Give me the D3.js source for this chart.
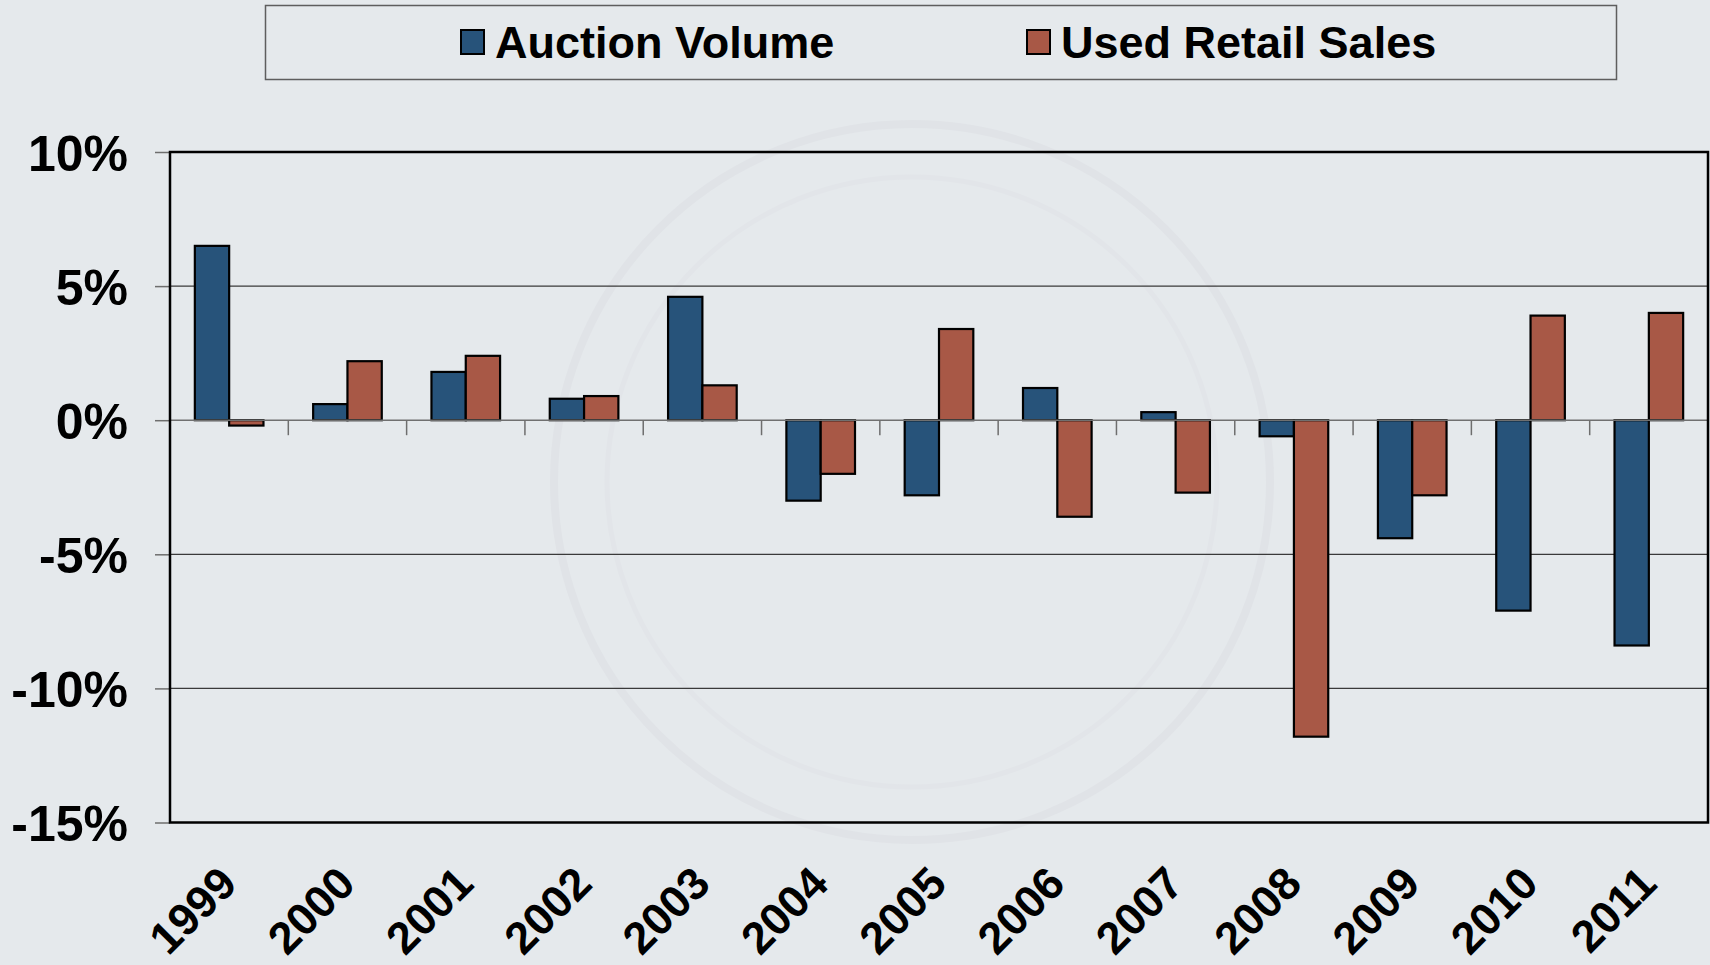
<!DOCTYPE html>
<html>
<head>
<meta charset="utf-8">
<script src="https://cdn.jsdelivr.net/npm/d3@7"></script>
<style>
  html, body { margin: 0; padding: 0; background: #e5e9ec; }
  svg text { font-family: "Liberation Sans", Arial, sans-serif; font-weight: bold; fill: #000; }
</style>
</head>
<body>
<div id="chart"></div>
<script>
// Data (% change per year)
const years = ["1999","2000","2001","2002","2003","2004","2005","2006","2007","2008","2009","2010","2011"];
const auctionVolume = [6.5, 0.6, 1.8, 0.8, 4.6, -3.0, -2.8, 1.2, 0.3, -0.6, -4.4, -7.1, -8.4];
const usedRetailSales = [-0.2, 2.2, 2.4, 0.9, 1.3, -2.0, 3.4, -3.6, -2.7, -11.8, -2.8, 3.9, 4.0];
const seriesNames = ["Auction Volume", "Used Retail Sales"];
const seriesColors = ["#27537a", "#a85846"];
const yTicks = [-15, -10, -5, 0, 5, 10];

const width = 1710, height = 965;
const plotLeft = 170, plotRight = 1708, plotTop = 152, plotBottom = 822.5;

let svg = d3.select("#chart").append("svg")
  .attr("width", width)
  .attr("height", height);

// background
svg.append("rect").attr("width", width).attr("height", height).attr("fill", "#e5e9ec");

// faint watermark rings behind the plot
svg.append("circle").attr("cx", 912).attr("cy", 482).attr("r", 358)
  .attr("fill", "none").attr("stroke", "#e0e3e7").attr("stroke-width", 8);
svg.append("circle").attr("cx", 912).attr("cy", 482).attr("r", 305)
  .attr("fill", "none").attr("stroke", "#e2e5e9").attr("stroke-width", 5);

let x = d3.scaleBand().domain(years).range([plotLeft, plotRight]).paddingInner(0).paddingOuter(0);
let y = d3.scaleLinear().domain([-15, 10]).range([plotBottom, plotTop]);

const barW = x.bandwidth() * 0.29;
let x1 = d3.scaleBand().domain(seriesNames)
  .range([x.bandwidth() / 2 - barW, x.bandwidth() / 2 + barW]);

// gridlines (not at 0 or the frame)
svg.append("g").selectAll("line")
  .data(yTicks.filter(d => d !== 0 && d !== 10 && d !== -15))
  .enter().append("line")
  .attr("x1", plotLeft).attr("x2", plotRight)
  .attr("y1", d => y(d)).attr("y2", d => y(d))
  .attr("stroke", "#3a3a3a").attr("stroke-width", 1.2);

// y axis
let yAxis = svg.append("g")
  .attr("transform", "translate(" + plotLeft + ",0)")
  .call(d3.axisLeft(y).tickValues(yTicks).tickSize(15).tickPadding(27).tickFormat(d => d + "%"));
yAxis.select(".domain").remove();
yAxis.selectAll(".tick line").attr("stroke", "#6e6e6e").attr("stroke-width", 1.5);
yAxis.selectAll(".tick text")
  .attr("font-size", 50)
  .attr("dy", "0.36em");

// bars
let rows = years.map((yr, i) => ({ year: yr, values: [auctionVolume[i], usedRetailSales[i]] }));
let groups = svg.append("g").selectAll("g")
  .data(rows)
  .enter().append("g")
  .attr("transform", d => "translate(" + x(d.year) + ",0)");

groups.selectAll("rect")
  .data(d => d.values.map((v, k) => ({ name: seriesNames[k], value: v, k: k })))
  .enter().append("rect")
  .attr("x", d => x1(d.name))
  .attr("width", x1.bandwidth())
  .attr("y", d => y(Math.max(0, d.value)))
  .attr("height", d => Math.abs(y(d.value) - y(0)))
  .attr("fill", d => seriesColors[d.k])
  .attr("stroke", "#000")
  .attr("stroke-width", 2.2);

// zero line and category separator ticks
svg.append("line")
  .attr("x1", plotLeft).attr("x2", plotRight)
  .attr("y1", y(0)).attr("y2", y(0))
  .attr("stroke", "#707070").attr("stroke-width", 1.5);

svg.append("g").selectAll("line")
  .data(years.slice(1))
  .enter().append("line")
  .attr("x1", d => x(d)).attr("x2", d => x(d))
  .attr("y1", y(0)).attr("y2", y(0) + 15)
  .attr("stroke", "#6e6e6e").attr("stroke-width", 1.5);

// plot frame
svg.append("rect")
  .attr("x", plotLeft).attr("y", plotTop)
  .attr("width", plotRight - plotLeft).attr("height", plotBottom - plotTop)
  .attr("fill", "none").attr("stroke", "#000").attr("stroke-width", 2.5);

// x labels, rotated
svg.append("g").selectAll("text")
  .data(years)
  .enter().append("text")
  .attr("transform", d => "translate(" + (x(d) + x.bandwidth() / 2 + 10) + ",886) rotate(-45)")
  .attr("text-anchor", "end")
  .attr("font-size", 45)
  .text(d => d);

// legend
let legend = svg.append("g");
legend.append("rect")
  .attr("x", 265.5).attr("y", 5.5)
  .attr("width", 1351).attr("height", 74)
  .attr("fill", "#e5e9ec").attr("stroke", "#5e5e5e").attr("stroke-width", 1.5);

const legendX = [461, 1027];
let items = legend.selectAll("g.item")
  .data(seriesNames)
  .enter().append("g")
  .attr("class", "item")
  .attr("transform", (d, i) => "translate(" + legendX[i] + ",0)");
items.append("rect")
  .attr("x", 0).attr("y", 30)
  .attr("width", 23).attr("height", 24)
  .attr("fill", (d, i) => seriesColors[i])
  .attr("stroke", "#000").attr("stroke-width", 2);
items.append("text")
  .attr("x", 34).attr("y", 57.5)
  .attr("font-size", 45)
  .text(d => d);
</script>
</body>
</html>
